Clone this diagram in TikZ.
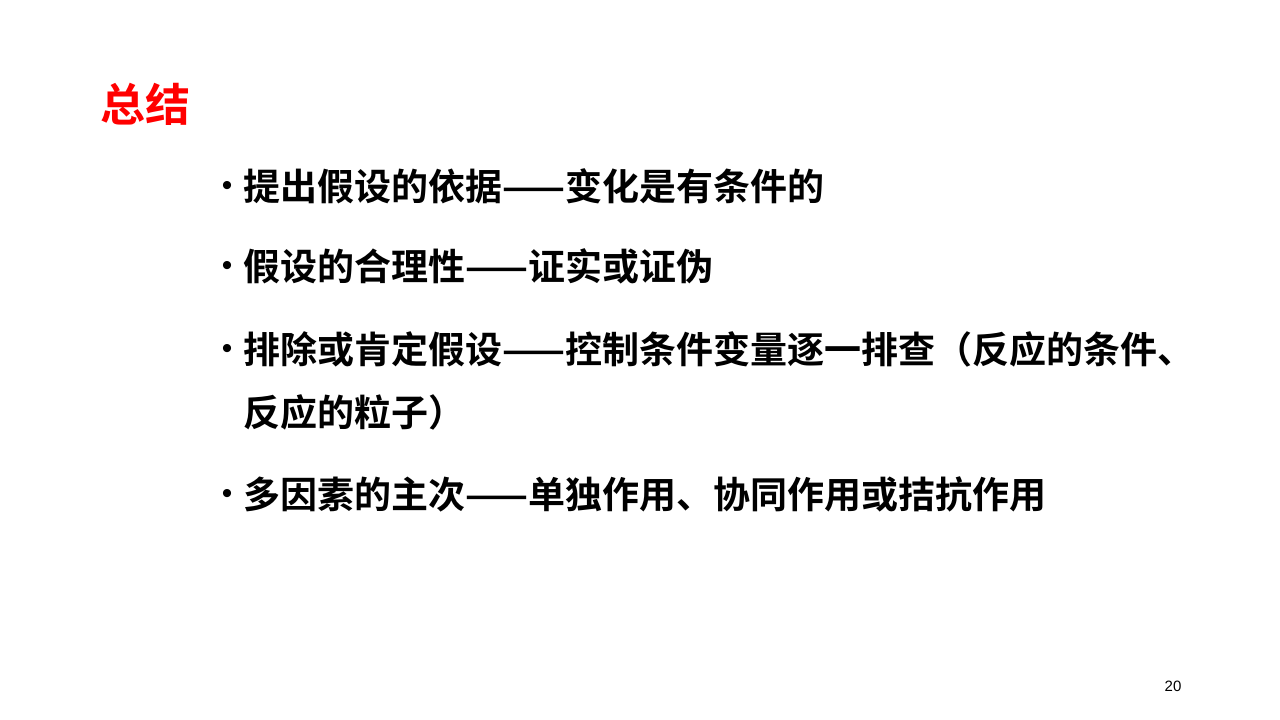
\documentclass[tikz,border=0pt]{standalone}
\usepackage{fontspec}
\newfontfamily\cjk{Noto Sans CJK SC}
\newfontfamily\cjkb{Noto Sans CJK SC Bold}
\setmainfont{Liberation Sans}
\begin{document}
\begin{tikzpicture}[x=1pt,y=-1pt,
  line/.style={anchor=west,inner sep=0pt,font=\cjkb\fontsize{37}{40}\selectfont},
  dot/.style={anchor=center,inner sep=0pt,font=\fontsize{30}{32}\selectfont}]
\useasboundingbox (0,0) rectangle (1280,720);
\node[anchor=west,inner sep=0pt,text=red,font=\cjkb\fontsize{45}{48}\selectfont] (title) at (100,104) {总结};
\foreach \y/\t [count=\i] in {186/提出假设的依据——变化是有条件的,
  266/假设的合理性——证实或证伪,
  349/排除或肯定假设——控制条件变量逐一排查（反应的条件、,
  494/多因素的主次——单独作用、协同作用或拮抗作用}{
  \node[dot] (b\i) at (227,\y+2) {•};
  \node[line] (t\i) at (243,\y) {\t};
}
\node[line] (t3b) at (243,412) {反应的粒子）};
\node[anchor=center,inner sep=0pt,font=\fontsize{15}{18}\selectfont] (pg) at (1173,686) {20};
\end{tikzpicture}
\end{document}
